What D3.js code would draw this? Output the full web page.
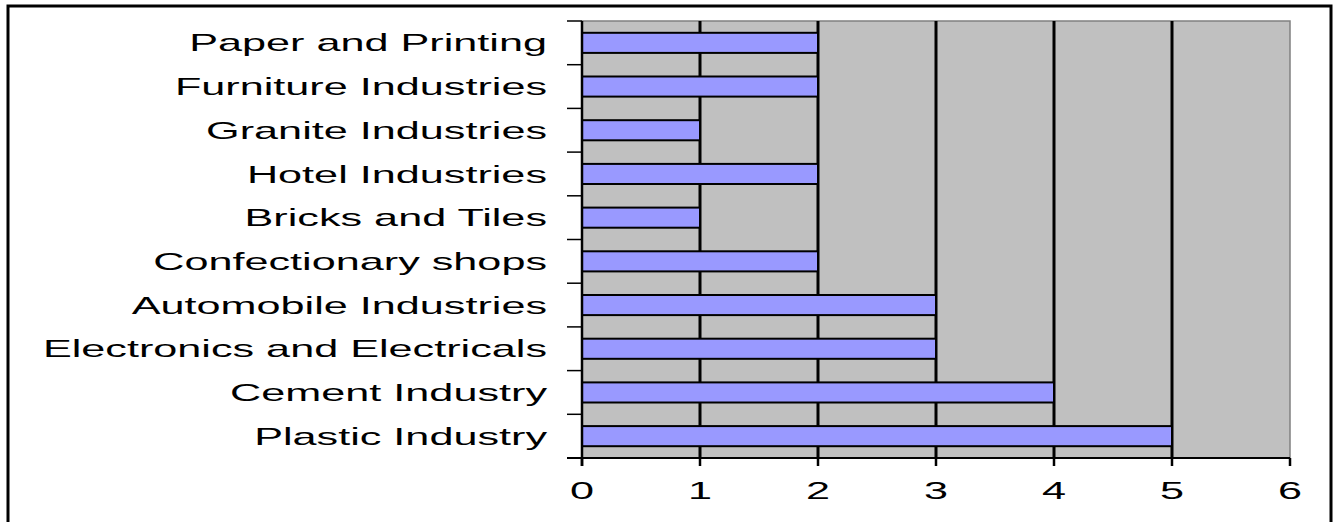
<!DOCTYPE html>
<html>
<head>
<meta charset="utf-8">
<script src="https://cdn.jsdelivr.net/npm/d3@7"></script>
<style>
  body { margin: 0; background: #fff; }
  text { font-family: "Liberation Sans", Arial, sans-serif; fill: #000; }
</style>
</head>
<body>
<script>
const W = 1334, H = 522;
// categories top to bottom
const categories = [
    'Paper and Printing',
    'Furniture Industries',
    'Granite Industries',
    'Hotel Industries',
    'Bricks and Tiles',
    'Confectionary shops',
    'Automobile Industries',
    'Electronics and Electricals',
    'Cement Industry',
    'Plastic Industry'
];
const counts = [2, 2, 1, 2, 1, 2, 3, 3, 4, 5];
const xTicks = [0, 1, 2, 3, 4, 5, 6];

const plot = {left: 582, right: 1290, top: 21, bottom: 458};
const stretch = 1.8;   // text in the source is drawn wide

let svg = d3.select('body')
    .append('svg')
    .attr('width', W)
    .attr('height', H);

// outer frame
svg.append('rect')
    .attr('x', 8).attr('y', 6)
    .attr('width', 1323).attr('height', 530)
    .attr('fill', 'none')
    .attr('stroke', '#000')
    .attr('stroke-width', 3);

let x = d3.scaleLinear()
    .domain([0, 6])
    .range([plot.left, plot.right]);

let y = d3.scaleBand()
    .domain(categories)
    .range([plot.top, plot.bottom])
    .paddingInner(0.54)
    .paddingOuter(0.27);

// plot area
svg.append('rect')
    .attr('x', plot.left).attr('y', plot.top)
    .attr('width', plot.right - plot.left)
    .attr('height', plot.bottom - plot.top)
    .attr('fill', '#c0c0c0');

svg.append('path')
    .attr('d', `M${plot.left},${plot.top}H${plot.right}V${plot.bottom}`)
    .attr('fill', 'none')
    .attr('stroke', '#808080')
    .attr('stroke-width', 1.5);

// vertical gridlines
svg.selectAll('line.grid')
    .data(xTicks.filter(d => d > 0 && d < 6))
    .enter()
    .append('line')
    .attr('class', 'grid')
    .attr('x1', d => x(d)).attr('x2', d => x(d))
    .attr('y1', plot.top).attr('y2', plot.bottom)
    .attr('stroke', '#000')
    .attr('stroke-width', 3);

// bars
svg.selectAll('rect.bar')
    .data(categories)
    .enter()
    .append('rect')
    .attr('class', 'bar')
    .attr('x', x(0))
    .attr('y', d => y(d))
    .attr('width', (d, i) => x(counts[i]) - x(0))
    .attr('height', y.bandwidth())
    .attr('fill', '#9999ff')
    .attr('stroke', '#000')
    .attr('stroke-width', 2);

// axes lines
svg.append('line')
    .attr('x1', plot.left).attr('x2', plot.left)
    .attr('y1', plot.top).attr('y2', plot.bottom + 8)
    .attr('stroke', '#000').attr('stroke-width', 2.5);
svg.append('line')
    .attr('x1', plot.left - 15).attr('x2', plot.right)
    .attr('y1', plot.bottom).attr('y2', plot.bottom)
    .attr('stroke', '#000').attr('stroke-width', 2);

// category boundary ticks
const step = y.step();
const bounds = d3.range(categories.length + 1).map(i => plot.top + i * step);
svg.selectAll('line.ytick')
    .data(bounds)
    .enter()
    .append('line')
    .attr('class', 'ytick')
    .attr('x1', plot.left - 15).attr('x2', plot.left)
    .attr('y1', d => d).attr('y2', d => d)
    .attr('stroke', '#000').attr('stroke-width', 1.5);

// x ticks
svg.selectAll('line.xtick')
    .data(xTicks)
    .enter()
    .append('line')
    .attr('class', 'xtick')
    .attr('x1', d => x(d)).attr('x2', d => x(d))
    .attr('y1', plot.bottom).attr('y2', plot.bottom + 8)
    .attr('stroke', '#000').attr('stroke-width', 2.5);

// category labels
svg.selectAll('text.cat')
    .data(categories)
    .enter()
    .append('text')
    .attr('class', 'cat')
    .attr('transform', d => `translate(547,${y(d) + y.bandwidth() / 2}) scale(${stretch},1)`)
    .attr('text-anchor', 'end')
    .attr('dy', '0.36em')
    .attr('font-size', 24)
    .text(d => d);

// x labels
svg.selectAll('text.xl')
    .data(xTicks)
    .enter()
    .append('text')
    .attr('class', 'xl')
    .attr('transform', d => `translate(${x(d)},499) scale(${stretch},1)`)
    .attr('text-anchor', 'middle')
    .attr('font-size', 24)
    .text(d => d);
</script>
</body>
</html>
